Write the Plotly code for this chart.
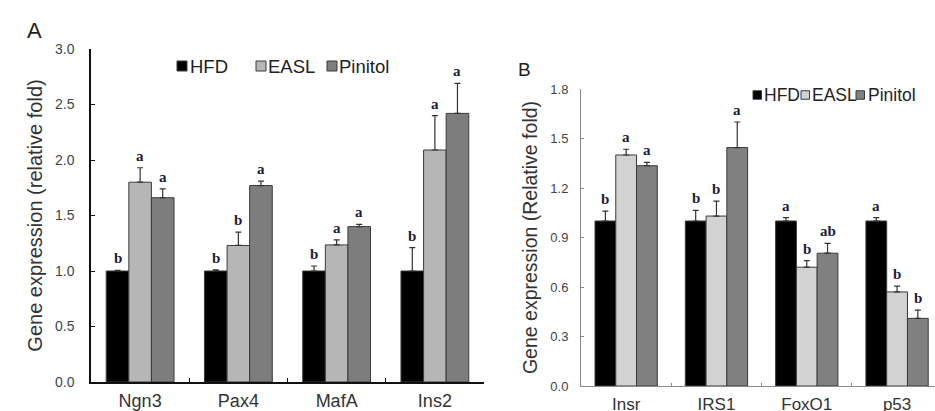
import plotly.graph_objects as go

# ---------------- data ----------------
genes_A = ["Ngn3", "Pax4", "MafA", "Ins2"]
hfd_A = [1.00, 1.00, 1.00, 1.00]
hfd_A_err = [0.005, 0.01, 0.045, 0.21]
easl_A = [1.80, 1.23, 1.235, 2.09]
easl_A_err = [0.13, 0.12, 0.045, 0.31]
pin_A = [1.66, 1.77, 1.40, 2.42]
pin_A_err = [0.08, 0.04, 0.02, 0.27]
let_hfd_A = ["b", "b", "b", "b"]
let_easl_A = ["a", "b", "a", "a"]
let_pin_A = ["a", "a", "a", "a"]

genes_B = ["Insr", "IRS1", "FoxO1", "p53"]
hfd_B = [1.00, 1.00, 1.00, 1.00]
hfd_B_err = [0.06, 0.065, 0.02, 0.02]
easl_B = [1.40, 1.03, 0.72, 0.57]
easl_B_err = [0.035, 0.09, 0.04, 0.035]
pin_B = [1.335, 1.445, 0.805, 0.41]
pin_B_err = [0.02, 0.155, 0.06, 0.05]
let_hfd_B = ["b", "b", "a", "a"]
let_easl_B = ["a", "b", "b", "b"]
let_pin_B = ["a", "a", "ab", "b"]

yticks_A = [0.0, 0.5, 1.0, 1.5, 2.0, 2.5, 3.0]
yticks_B = [0.0, 0.3, 0.6, 0.9, 1.2, 1.5, 1.8]

series = ["HFD", "EASL", "Pinitol"]
colors_A = ["#000000", "#b6b6b6", "#7d7d7d"]
colors_B = ["#000000", "#d2d2d2", "#808080"]
outline = "#3a3a3a"

REG = "Liberation Sans, Arial"
SERIF = "Liberation Serif, Times New Roman"
BARGAP = 0.31
W, H = 935, 411

fig = go.Figure()


def add_panel(genes, vals, errs, letters, colors, xa, ya):
    for k, name in enumerate(series):
        fig.add_trace(go.Bar(
            x=genes, y=vals[k], name=name,
            marker=dict(color=colors[k], line=dict(color=outline, width=1)),
            error_y=dict(type="data", array=errs[k], arrayminus=[0] * len(genes),
                         symmetric=False, color="#333333", thickness=1.2, width=3),
            xaxis=xa, yaxis=ya, showlegend=False, hoverinfo="skip",
        ))
    w = (1 - BARGAP) / 3
    for k in range(3):
        for i in range(len(genes)):
            fig.add_annotation(
                x=i + (k - 1) * w, y=vals[k][i] + errs[k][i],
                xref=xa, yref=ya, text="<b>%s</b>" % letters[k][i],
                showarrow=False, yanchor="bottom", yshift=2,
                font=dict(family=SERIF, size=15, color="#1c1c3c"))


def add_legend(colors, sq_x, txt_x, yc, size, fsize):
    for k, name in enumerate(series):
        fig.add_shape(type="rect", xref="paper", yref="paper",
                      x0=sq_x[k] / W, x1=(sq_x[k] + size) / W,
                      y0=1 - (yc + size / 2) / H, y1=1 - (yc - size / 2) / H,
                      fillcolor=colors[k], line=dict(color=outline, width=1))
        fig.add_annotation(x=txt_x[k] / W, y=1 - yc / H, xref="paper", yref="paper",
                           text=name, showarrow=False, xanchor="left", yanchor="middle",
                           font=dict(family=REG, size=fsize, color="#222222"))


add_panel(genes_A, [hfd_A, easl_A, pin_A], [hfd_A_err, easl_A_err, pin_A_err],
          [let_hfd_A, let_easl_A, let_pin_A], colors_A, "x", "y")
add_panel(genes_B, [hfd_B, easl_B, pin_B], [hfd_B_err, easl_B_err, pin_B_err],
          [let_hfd_B, let_easl_B, let_pin_B], colors_B, "x2", "y2")

add_legend(colors_A, [177, 256, 327], [188, 266, 337], 66, 10, 18.5)
add_legend(colors_B, [753, 801, 856], [762, 810, 866], 95, 8.5, 17.5)

fig.update_layout(
    width=W, height=H, margin=dict(l=0, r=0, t=0, b=0, autoexpand=False),
    paper_bgcolor="white", plot_bgcolor="white", showlegend=False,
    barmode="group", bargap=BARGAP, bargroupgap=0,
    xaxis=dict(domain=[91 / W, 484 / W], anchor="y", range=[-0.5, 3.5], automargin=False,
               showline=True, linecolor="#111111", linewidth=1.5,
               tickson="boundaries", ticks="inside", ticklen=4, tickcolor="#111111",
               tickfont=dict(family=REG, size=18, color="#333333"),
               ticklabelstandoff=2, showgrid=False, zeroline=False),
    yaxis=dict(domain=[(H - 382) / H, (H - 49) / H], anchor="x", range=[0, 3.0],
               automargin=False,
               tickvals=yticks_A, ticktext=["%.1f" % v for v in yticks_A],
               showline=True, linecolor="#111111", linewidth=1.5,
               ticks="inside", ticklen=4, tickcolor="#111111",
               tickfont=dict(family=REG, size=14, color="#444444"),
               ticklabelstandoff=12, showgrid=False, zeroline=False,
               title=dict(text="Gene expression (relative fold)",
                          font=dict(family=REG, size=20, color="#333333"), standoff=7)),
    xaxis2=dict(domain=[581 / W, 1.0], anchor="y2", range=[-0.5, 3.42], automargin=False,
                showline=True, linecolor="#8a8a8a", linewidth=1,
                tickson="boundaries", ticks="inside", ticklen=3, tickcolor="#8a8a8a",
                tickfont=dict(family=REG, size=17, color="#333333"),
                ticklabelstandoff=3, showgrid=False, zeroline=False),
    yaxis2=dict(domain=[(H - 386) / H, (H - 89) / H], anchor="x2", range=[0, 1.8],
                automargin=False,
                tickvals=yticks_B, ticktext=["%.1f" % v for v in yticks_B],
                showline=True, linecolor="#8a8a8a", linewidth=1,
                ticks="inside", ticklen=3, tickcolor="#8a8a8a",
                tickfont=dict(family=REG, size=13, color="#444444"),
                ticklabelstandoff=9, showgrid=False, zeroline=False,
                title=dict(text="Gene expression (Relative fold)",
                           font=dict(family=REG, size=19.5, color="#333333"), standoff=7)),
)

fig.add_annotation(x=25 / W, y=1 - 30 / H, xref="paper", yref="paper", text="A",
                   showarrow=False, xanchor="left", yanchor="middle",
                   font=dict(family=REG, size=22, color="#222222"))
fig.add_annotation(x=516 / W, y=1 - 69 / H, xref="paper", yref="paper", text="B",
                   showarrow=False, xanchor="left", yanchor="middle",
                   font=dict(family=REG, size=19, color="#222222"))

fig.write_html(
    "out.html",
    config={"displayModeBar": False},
    post_script="document.body.style.margin='0px';document.body.style.overflow='hidden';",
)
